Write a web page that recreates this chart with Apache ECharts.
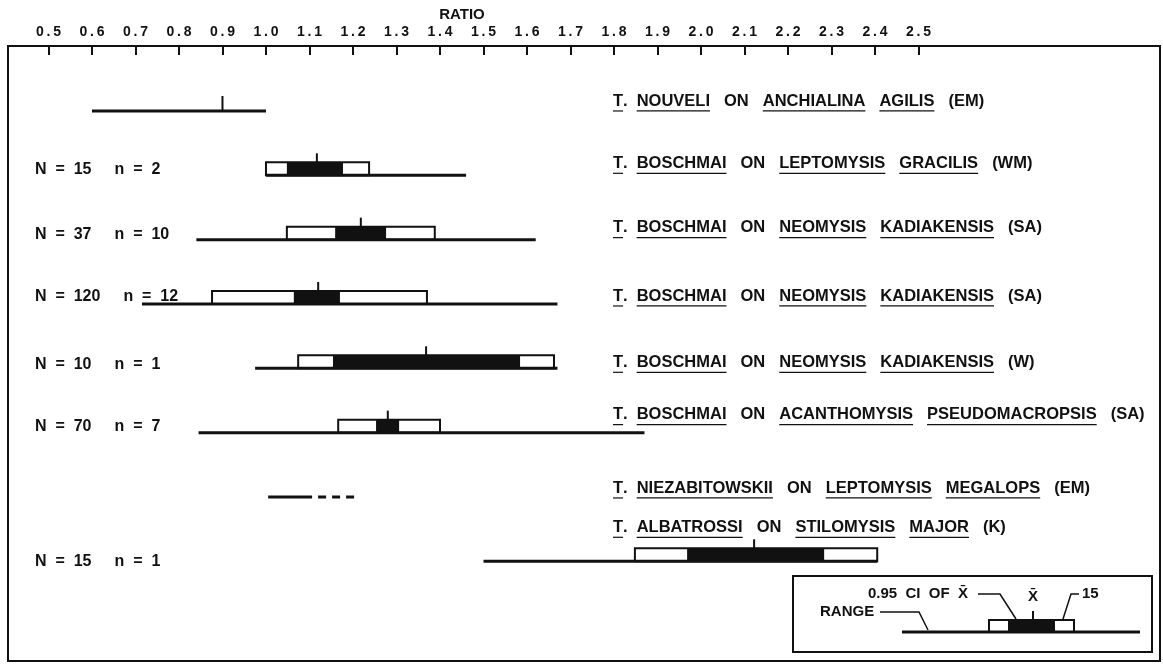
<!DOCTYPE html>
<html>
<head>
<meta charset="utf-8">
<script src="https://cdn.jsdelivr.net/npm/echarts@6/dist/echarts.min.js"></script>
<style>
  html, body { margin: 0; padding: 0; background: #fff; }
  #chart { width: 1163px; height: 665px; }
</style>
</head>
<body>
<div id="chart"></div>
<script>
// tick labels on the ratio axis
const ratioTicks = [0.5, 0.6, 0.7, 0.8, 0.9, 1.0, 1.1, 1.2, 1.3, 1.4, 1.5,
                    1.6, 1.7, 1.8, 1.9, 2.0, 2.1, 2.2, 2.3, 2.4, 2.5];

// one entry per row, top to bottom
const parasite    = ['NOUVELI', 'BOSCHMAI', 'BOSCHMAI', 'BOSCHMAI', 'BOSCHMAI', 'BOSCHMAI', 'NIEZABITOWSKII', 'ALBATROSSI'];
const hostGenus   = ['ANCHIALINA', 'LEPTOMYSIS', 'NEOMYSIS', 'NEOMYSIS', 'NEOMYSIS', 'ACANTHOMYSIS', 'LEPTOMYSIS', 'STILOMYSIS'];
const hostSpecies = ['AGILIS', 'GRACILIS', 'KADIAKENSIS', 'KADIAKENSIS', 'KADIAKENSIS', 'PSEUDOMACROPSIS', 'MEGALOPS', 'MAJOR'];
const site        = ['EM', 'WM', 'SA', 'SA', 'W', 'SA', 'EM', 'K'];
const bigN   = [null, 15, 37, 120, 10, 70, null, 15];
const smallN = [null, 2, 10, 12, 1, 7, null, 1];

const rangeLo  = [0.60, 1.00, 0.84, 0.715, 0.975, 0.845, 1.005, 1.50];
const rangeHi  = [1.00, 1.46, 1.62, 1.67, 1.67, 1.87, 1.212, 2.405];
const dashFrom = [null, null, null, null, null, null, 1.106, null];  // rest of the range is uncertain
const boxLo    = [null, 1.00, 1.048, 0.876, 1.074, 1.166, null, 1.848];
const boxHi    = [null, 1.237, 1.388, 1.370, 1.662, 1.400, null, 2.405];
const ciLo     = [null, 1.048, 1.159, 1.064, 1.154, 1.253, null, 1.968];
const ciHi     = [null, 1.177, 1.276, 1.170, 1.584, 1.306, null, 2.283];
const mean     = [0.90, 1.117, 1.218, 1.12, 1.368, 1.28, null, 2.122];

// layout
const ink = '#111';
const labelFont = 'bold 16.5px "Liberation Sans"';
const countFont = 'bold 16px "Liberation Sans"';
const nameLeft = 613;
const nameShift = [-10, -12, -12, -8, -6, -18, -9, -34];
const countShift = [0, -6, -5, -7, -4, -6, 0, 0];
const boxH = 13;

const measure = document.createElement('canvas').getContext('2d');
const textW = (s, font) => { measure.font = font; return measure.measureText(s).width; };

// text pieces with underlines, laid out left to right
function wordRow(parts, x, y) {
    const out = [];
    parts.forEach(p => {
        const w = textW(p.t, labelFont);
        out.push({type: 'text', style: {text: p.t, x: x, y: y, font: labelFont, fill: ink,
                  align: 'left', verticalAlign: 'middle'}});
        if (p.u) {
            out.push({type: 'line', shape: {x1: x, y1: y + 10, x2: x + w, y2: y + 10},
                      style: {stroke: ink, lineWidth: 1.2}});
        }
        x += w + (p.gap == null ? 14 : p.gap);
    });
    return out;
}

function renderRow(params, api) {
    const i = api.value(1);
    const y = api.coord([1, i])[1];
    const px = v => api.coord([v, i])[0];
    const kids = [];
    let tickTop = y - 15, tickBottom = y;

    if (boxLo[i] != null) {
        kids.push({type: 'rect', shape: {x: px(boxLo[i]), y: y - boxH, width: px(boxHi[i]) - px(boxLo[i]), height: boxH},
                   style: {fill: '#fff', stroke: ink, lineWidth: 2}});
        kids.push({type: 'rect', shape: {x: px(ciLo[i]), y: y - boxH, width: px(ciHi[i]) - px(ciLo[i]), height: boxH},
                   style: {fill: ink}});
        tickBottom = y - boxH;
        tickTop = tickBottom - 9;
    }

    const solidEnd = dashFrom[i] != null ? dashFrom[i] : rangeHi[i];
    kids.push({type: 'line', shape: {x1: px(rangeLo[i]), y1: y, x2: px(solidEnd), y2: y},
               style: {stroke: ink, lineWidth: 3}});
    if (dashFrom[i] != null) {
        kids.push({type: 'line', shape: {x1: px(dashFrom[i]), y1: y, x2: px(rangeHi[i]), y2: y},
                   style: {stroke: ink, lineWidth: 3, lineDash: [8, 6], lineDashOffset: 8}});
    }
    if (mean[i] != null) {
        kids.push({type: 'line', shape: {x1: px(mean[i]), y1: tickTop, x2: px(mean[i]), y2: tickBottom},
                   style: {stroke: ink, lineWidth: 2}});
    }

    // species name on the right
    const ny = y + nameShift[i];
    kids.push(...wordRow([
        {t: 'T', u: true, gap: 0},
        {t: '.', u: false, gap: 9},
        {t: parasite[i], u: true},
        {t: 'ON', u: false},
        {t: hostGenus[i], u: true},
        {t: hostSpecies[i], u: true},
        {t: '(' + site[i] + ')', u: false}
    ], nameLeft, ny));

    // sample sizes on the left
    if (bigN[i] != null) {
        const cy = y + countShift[i];
        const a = 'N  =  ' + bigN[i];
        kids.push({type: 'text', style: {text: a, x: 35, y: cy, font: countFont, fill: ink, align: 'left', verticalAlign: 'middle'}});
        kids.push({type: 'text', style: {text: 'n  =  ' + smallN[i], x: 35 + textW(a, countFont) + 23, y: cy,
                   font: countFont, fill: ink, align: 'left', verticalAlign: 'middle'}});
    }
    return {type: 'group', children: kids};
}

// explanatory key in the lower right
const keyText = (text, x, y, align) => ({type: 'text', style: {text: text, x: x, y: y, font: 'bold 15px "Liberation Sans"',
                                        fill: ink, align: align, verticalAlign: 'middle'}});
const keyLine = (points, w) => ({type: 'polyline', shape: {points: points}, style: {stroke: ink, lineWidth: w, fill: null}});
const keyGraphic = [
    {type: 'rect', shape: {x: 793, y: 576, width: 359, height: 76}, style: {fill: '#fff', stroke: ink, lineWidth: 2}},
    {type: 'rect', shape: {x: 989, y: 620, width: 85, height: 12}, style: {fill: '#fff', stroke: ink, lineWidth: 2}},
    {type: 'rect', shape: {x: 1008, y: 620, width: 47, height: 12}, style: {fill: ink}},
    keyLine([[902, 632], [1140, 632]], 3),
    keyLine([[1033, 611], [1033, 620]], 2),
    keyText('0.95  CI  OF  X\u0304', 968, 594, 'right'),
    keyLine([[978, 594], [1000, 594], [1016, 619]], 1.5),
    keyText('X\u0304', 1033, 597, 'center'),
    keyText('15', 1082, 594, 'left'),
    keyLine([[1079, 594], [1071, 594], [1063, 619]], 1.5),
    keyText('RANGE', 820, 612, 'left'),
    keyLine([[880, 612], [919, 612], [928, 630]], 1.5),
    {type: 'text', style: {text: 'RATIO', x: 462, y: 15, font: 'bold 15px "Liberation Sans"', fill: ink,
                           align: 'center', verticalAlign: 'middle'}}
];

const chart = echarts.init(document.getElementById('chart'));
chart.setOption({
    animation: false,
    backgroundColor: '#fff',
    grid: {left: 8, right: 3, top: 46, bottom: 4, show: true, borderColor: ink, borderWidth: 2},
    xAxis: {
        type: 'value',
        position: 'top',
        min: 0.407,
        max: 3.055,
        axisLine: {show: false, onZero: false},
        splitLine: {show: false},
        axisTick: {show: true, inside: true, length: 9, customValues: ratioTicks, lineStyle: {color: ink, width: 2}},
        axisLabel: {
            customValues: ratioTicks,
            formatter: v => v.toFixed(1).split('').join('\u2009'),
            color: ink,
            fontSize: 14,
            fontWeight: 'bold',
            fontFamily: 'Liberation Sans',
            margin: 7
        }
    },
    yAxis: {type: 'value', inverse: true, min: -1.01, max: 8.55, show: false},
    graphic: keyGraphic,
    series: [{
        type: 'custom',
        renderItem: renderRow,
        data: parasite.map((_, i) => [rangeLo[i], i]),
        silent: true
    }]
});
</script>
</body>
</html>
